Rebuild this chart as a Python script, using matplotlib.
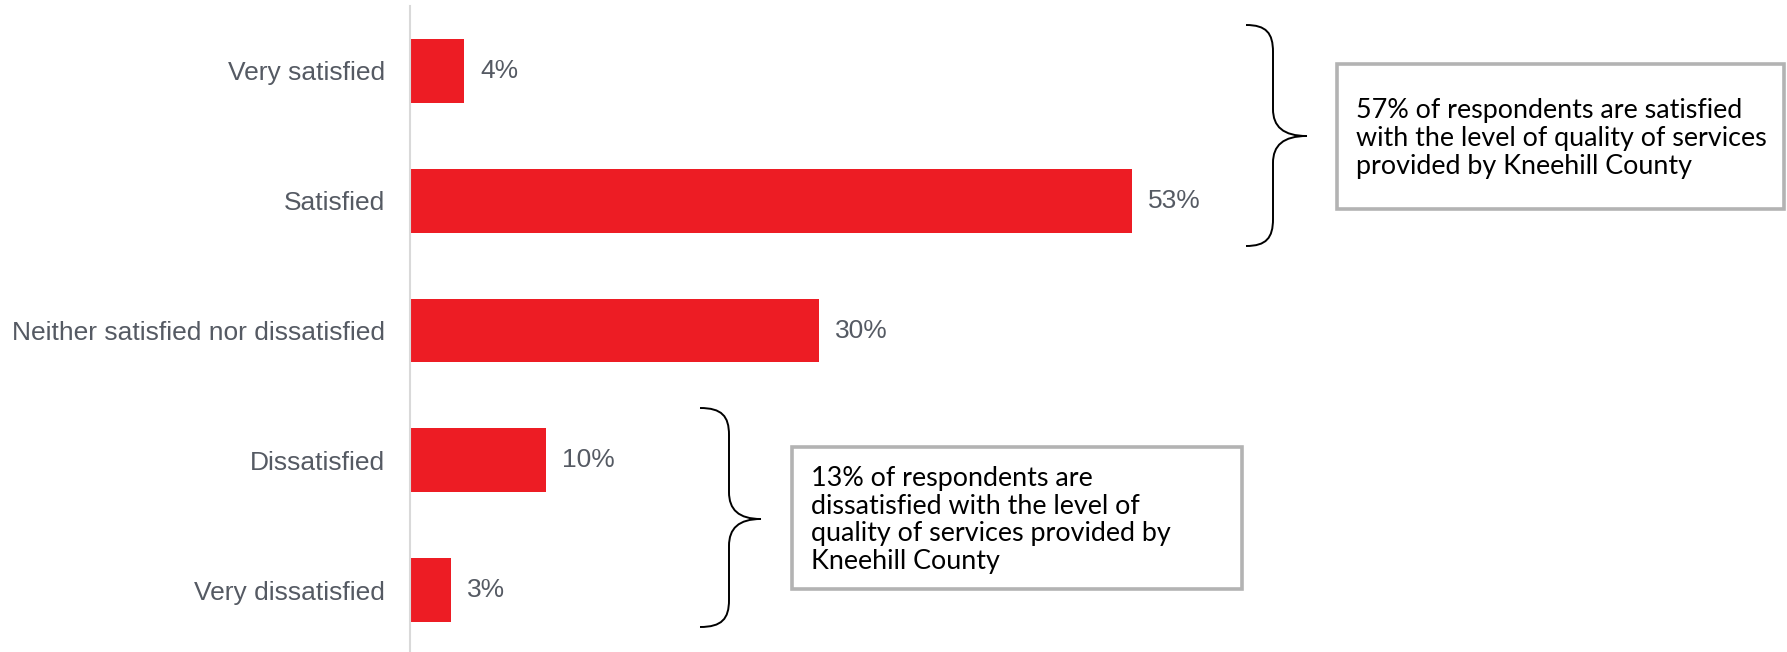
import matplotlib.pyplot as plt
from matplotlib.path import Path
from matplotlib.patches import PathPatch, Rectangle

categories = ["Very satisfied", "Satisfied", "Neither satisfied nor dissatisfied",
              "Dissatisfied", "Very dissatisfied"]
values = [4, 53, 30, 10, 3]
value_labels = ["4%", "53%", "30%", "10%", "3%"]

note_top = ("57% of respondents are satisfied\n"
            "with the level of quality of services\n"
            "provided by Kneehill County")
note_bottom = ("13% of respondents are\n"
               "dissatisfied with the level of\n"
               "quality of services provided by\n"
               "Kneehill County")

RED = "#ED1C24"
GREY_TXT = "#555A63"
W, H = 1787, 652

fig = plt.figure(figsize=(W / 100, H / 100), dpi=100)

# bar chart: zero line sits at x=410px, ~13.6px per percent
ax = fig.add_axes([410 / W, -3 / H, (W - 410) / W, 649 / H])
pos = list(range(len(categories)))
ax.barh(pos, values, height=0.49, color=RED)
ax.set_xlim(0, (W - 410) / 13.62)
ax.set_ylim(len(categories) - 0.5, -0.5)
ax.set_yticks(pos)
ax.set_yticklabels(categories, fontsize=19, color=GREY_TXT, family="Liberation Sans")
ax.tick_params(axis="y", length=0, pad=18)
ax.set_xticks([])
for s in ["top", "right", "bottom"]:
    ax.spines[s].set_visible(False)
ax.spines["left"].set_color("#d9d9d9")
ax.spines["left"].set_linewidth(1.5)
for p, v, lab in zip(pos, values, value_labels):
    ax.annotate(lab, (v, p), xytext=(16, 0), textcoords="offset pixels",
                va="center", ha="left", fontsize=19, color=GREY_TXT,
                family="Liberation Sans")

# overlay in pixel units for the braces and call-out boxes
ov = fig.add_axes([0, 0, 1, 1])
ov.set_xlim(0, W)
ov.set_ylim(H, 0)
ov.axis("off")


def brace(x_end, x_mid, x_tip, y_top, y_bot, y_tip, r=27):
    verts = [
        (x_end, y_top),
        (x_end + 0.75 * (x_mid - x_end), y_top), (x_mid, y_top + 0.3 * r), (x_mid, y_top + r),
        (x_mid, y_tip - r),
        (x_mid, y_tip - 0.35 * r), (x_mid + 0.3 * (x_tip - x_mid), y_tip), (x_tip, y_tip),
        (x_mid + 0.3 * (x_tip - x_mid), y_tip), (x_mid, y_tip + 0.35 * r), (x_mid, y_tip + r),
        (x_mid, y_bot - r),
        (x_mid, y_bot - 0.3 * r), (x_end + 0.75 * (x_mid - x_end), y_bot), (x_end, y_bot),
    ]
    codes = [Path.MOVETO] + [Path.CURVE4] * 3 + [Path.LINETO] + [Path.CURVE4] * 6 \
        + [Path.LINETO] + [Path.CURVE4] * 3
    ov.add_patch(PathPatch(Path(verts, codes), fill=False, lw=1.4, color="black"))


def note(x0, y0, x1, y1, txt):
    ov.add_patch(Rectangle((x0, y0), x1 - x0, y1 - y0, fill=False,
                           edgecolor="#b3b3b3", lw=2.6))
    ov.text(x0 + 19, (y0 + y1) / 2 + 2, txt, ha="left", va="center",
            fontsize=19.4, family="Lato", color="black", linespacing=1.13)


brace(1246, 1273, 1307, 25, 246, 136)
note(1337, 64, 1784, 209, note_top)

brace(700, 729, 761, 408, 627, 519)
note(792, 447, 1242, 589, note_bottom)

fig.savefig("out.png", dpi=100)
